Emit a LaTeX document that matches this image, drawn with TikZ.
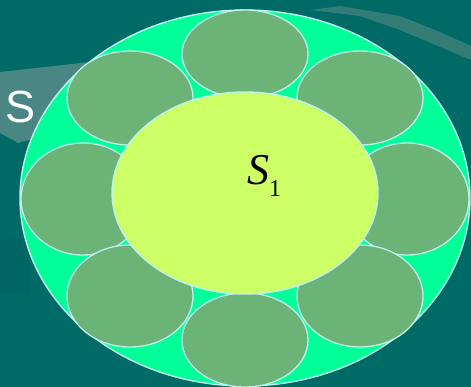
\documentclass[tikz,border=0pt]{standalone}
\usepackage{fontspec}
\setmainfont{Liberation Serif}
\newfontfamily\arialfont{Liberation Sans}
\definecolor{bgteal}{RGB}{0,106,102}
\definecolor{bandteal}{RGB}{74,134,131}
\definecolor{streakteal}{RGB}{52,124,120}
\definecolor{ringgreen}{RGB}{0,255,153}
\definecolor{petal}{RGB}{108,179,120}
\definecolor{corelime}{RGB}{204,255,102}
\definecolor{rim}{RGB}{192,240,236}
\tikzset{
  ring/.style={fill=ringgreen, draw=rim, line width=1.4pt},
  petalshape/.style={fill=petal, draw=rim, line width=1.3pt},
  coreshape/.style={fill=corelime, draw=rim, line width=1.4pt},
}
\begin{document}
\begin{tikzpicture}[x=1pt,y=-1pt]
\useasboundingbox (0,0) rectangle (471,387);
\fill[bgteal] (0,0) rectangle (471,387);
% background streaks
\fill[bandteal] (0,72) -- (45,67) -- (90,62) -- (130,58) -- (130,128) -- (60,132) -- (40,137) -- (18,143) -- (0,133) -- cycle;
\fill[streakteal] (310,10) -- (340,6) -- (400,16) -- (440,32) -- (471,46) -- (471,60) -- (445,49) -- (400,30) -- (360,16) -- cycle;
\fill[bgteal!92!black, opacity=0.35] (0,240) -- (30,238) -- (30,292) -- (0,294) -- cycle;
% outer ring
\path[ring] (245,198) ellipse [x radius=225, y radius=188];
% petals
\path[petalshape] (245,54) ellipse [x radius=63, y radius=44];
\path[petalshape] (130,98) ellipse [x radius=63, y radius=47];
\path[petalshape] (360,98) ellipse [x radius=63, y radius=47];
\path[petalshape] (83,199) ellipse [x radius=62, y radius=56];
\path[petalshape] (407,199) ellipse [x radius=62, y radius=56];
\path[petalshape] (130,296) ellipse [x radius=63, y radius=51];
\path[petalshape] (360,296) ellipse [x radius=63, y radius=51];
\path[petalshape] (245,340) ellipse [x radius=63, y radius=47];
% core
\path[coreshape] (245,193) ellipse [x radius=133, y radius=101];
% labels
\node[anchor=base west, inner sep=0pt] (s1) at (247,185)
  {\fontsize{44}{44}\selectfont\itshape S\upshape\raisebox{-12pt}{\fontsize{24}{24}\selectfont 1}};
\node[anchor=base west, inner sep=0pt, text=white] (s) at (5,123)
  {\arialfont\fontsize{45}{45}\selectfont S};
\end{tikzpicture}
\end{document}
